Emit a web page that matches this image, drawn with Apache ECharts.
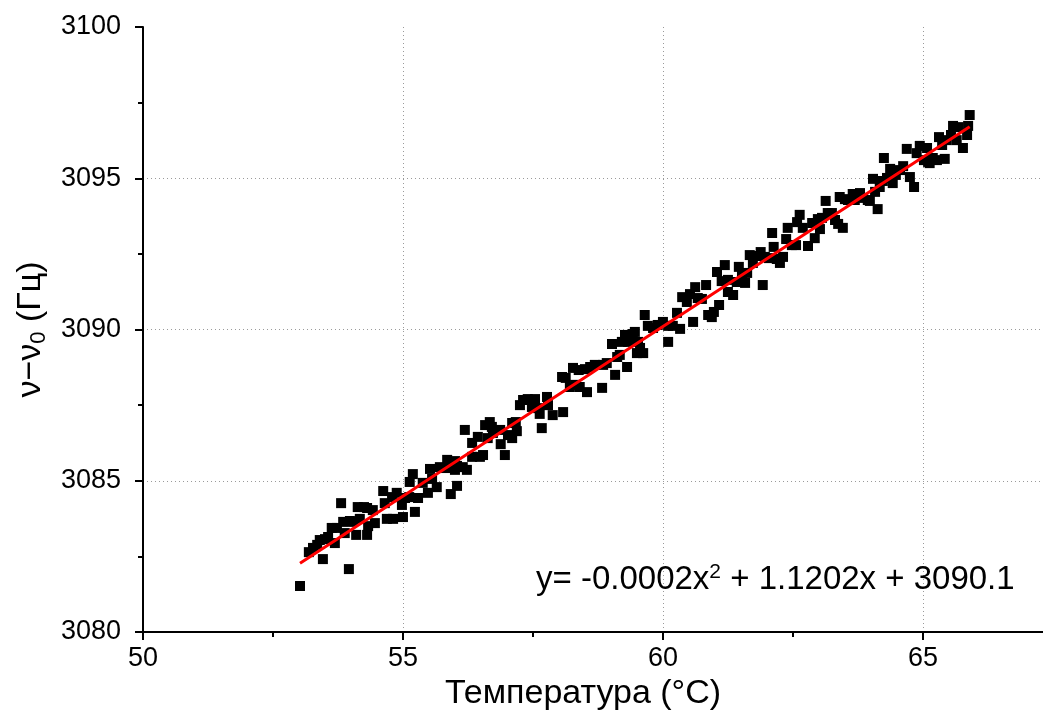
<!DOCTYPE html>
<html>
<head>
<meta charset="utf-8">
<script src="https://cdn.jsdelivr.net/npm/echarts@6/dist/echarts.min.js"></script>
<style>
  html, body { margin: 0; padding: 0; background: #ffffff; }
  #chart { width: 1043px; height: 717px; }
</style>
</head>
<body>
<div id="chart"></div>
<script>
// Measured temperature (°C)
const tempC = [
  53.02, 53.19, 53.27, 53.35, 53.40, 53.46, 53.50, 53.56, 53.63, 53.69,
  53.73, 53.81, 53.85, 53.88, 53.96, 53.98, 54.04, 54.10, 54.13, 54.17,
  54.25, 54.31, 54.31, 54.33, 54.42, 54.46, 54.62, 54.65, 54.69, 54.79,
  54.81, 54.88, 54.98, 55.00, 55.04, 55.12, 55.13, 55.19, 55.23, 55.29,
  55.38, 55.48, 55.52, 55.56, 55.65, 55.71, 55.81, 55.85, 55.92, 56.00,
  56.00, 56.04, 56.04, 56.15, 56.19, 56.23, 56.33, 56.33, 56.44, 56.48,
  56.54, 56.58, 56.63, 56.67, 56.71, 56.73, 56.87, 56.88, 56.96, 57.02,
  57.10, 57.10, 57.17, 57.19, 57.25, 57.31, 57.40, 57.48, 57.54, 57.60,
  57.63, 57.67, 57.77, 57.79, 57.88, 58.06, 58.08, 58.13, 58.21, 58.27,
  58.31, 58.38, 58.40, 58.50, 58.54, 58.60, 58.69, 58.83, 58.85, 58.92,
  59.02, 59.08, 59.12, 59.17, 59.21, 59.27, 59.31, 59.33, 59.40, 59.42,
  59.46, 59.50, 59.52, 59.56, 59.62, 59.65, 59.71, 59.81, 59.90, 60.00,
  60.10, 60.10, 60.19, 60.27, 60.33, 60.37, 60.46, 60.52, 60.58, 60.62,
  60.67, 60.75, 60.83, 60.87, 60.94, 60.98, 61.04, 61.08, 61.13, 61.19,
  61.25, 61.25, 61.35, 61.42, 61.46, 61.52, 61.58, 61.62, 61.67, 61.73,
  61.79, 61.88, 61.92, 61.96, 62.04, 62.10, 62.13, 62.19, 62.25, 62.31,
  62.37, 62.40, 62.48, 62.56, 62.58, 62.63, 62.69, 62.79, 62.87, 62.92,
  62.98, 63.02, 63.06, 63.13, 63.17, 63.25, 63.31, 63.37, 63.40, 63.46,
  63.50, 63.56, 63.65, 63.69, 63.79, 63.85, 63.94, 63.98, 64.04, 64.08,
  64.13, 64.17, 64.23, 64.25, 64.31, 64.37, 64.42, 64.48, 64.56, 64.62,
  64.69, 64.75, 64.83, 64.88, 64.94, 65.02, 65.08, 65.10, 65.13, 65.19,
  65.27, 65.31, 65.37, 65.42, 65.46, 65.54, 65.58, 65.65, 65.69, 65.77,
  65.85, 65.87, 65.90
];

// Frequency shift ν − ν0 (Hz), one value per temperature reading
const deltaNu = [
  3081.52, 3082.64, 3082.78, 3082.88, 3083.04, 3082.41, 3083.07, 3083.14, 3083.44, 3082.94,
  3083.44, 3084.26, 3083.64, 3083.27, 3082.08, 3083.67, 3083.64, 3083.21, 3084.13, 3083.74,
  3084.13, 3083.21, 3084.10, 3083.50, 3084.03, 3083.60, 3084.66, 3084.26, 3083.74, 3084.46,
  3083.74, 3084.60, 3084.20, 3083.80, 3084.43, 3084.46, 3084.96, 3085.22, 3083.97, 3084.43,
  3084.93, 3084.60, 3085.39, 3085.06, 3084.79, 3085.45, 3085.42, 3085.69, 3084.56, 3085.65,
  3085.36, 3084.83, 3085.49, 3085.45, 3086.68, 3085.36, 3086.25, 3085.79, 3086.45, 3085.79,
  3085.85, 3086.84, 3086.41, 3086.94, 3086.78, 3086.58, 3086.68, 3086.21, 3085.85, 3086.51,
  3086.41, 3086.91, 3086.94, 3086.64, 3087.50, 3087.67, 3087.70, 3087.44, 3087.70, 3087.40,
  3087.21, 3086.74, 3087.77, 3087.50, 3087.17, 3088.43, 3087.27, 3088.40, 3088.10, 3088.73,
  3088.17, 3088.66, 3088.10, 3088.69, 3087.93, 3088.76, 3088.83, 3088.07, 3088.83, 3088.89,
  3089.52, 3088.50, 3089.09, 3089.16, 3089.59, 3089.82, 3088.76, 3089.59, 3089.72, 3089.85,
  3089.92, 3089.22, 3089.59, 3089.39, 3089.22, 3090.48, 3090.12, 3090.05, 3090.15, 3090.25,
  3089.59, 3090.12, 3090.12, 3090.55, 3090.02, 3091.07, 3090.91, 3091.17, 3090.25, 3091.40,
  3091.04, 3091.01, 3091.47, 3090.48, 3090.41, 3090.58, 3091.90, 3090.81, 3091.60, 3092.13,
  3091.24, 3091.64, 3091.14, 3091.57, 3092.07, 3091.83, 3091.54, 3091.87, 3092.46, 3092.20,
  3092.43, 3092.56, 3091.47, 3092.40, 3092.36, 3093.19, 3092.73, 3092.33, 3092.20, 3092.40,
  3092.99, 3093.36, 3092.79, 3092.79, 3093.55, 3093.79, 3093.36, 3092.76, 3093.52, 3093.02,
  3093.65, 3093.32, 3093.69, 3094.25, 3093.85, 3093.85, 3093.62, 3093.49, 3094.38, 3093.36,
  3094.31, 3094.28, 3094.48, 3094.28, 3094.51, 3094.35, 3094.28, 3094.25, 3094.98, 3094.55,
  3093.98, 3094.71, 3094.91, 3095.67, 3095.01, 3095.31, 3094.84, 3095.11, 3095.27, 3095.40,
  3095.97, 3095.04, 3094.71, 3095.83, 3096.07, 3095.60, 3096.00, 3095.54, 3095.50, 3095.67,
  3095.60, 3096.36, 3096.10, 3095.64, 3096.26, 3096.43, 3096.73, 3096.26, 3096.69, 3096.00,
  3096.43, 3096.73, 3097.09
];

// Quadratic fit in the centred variable x = T − fitCentre: a·x² + b·x + c
const fitCoef = { a: -0.0002, b: 1.1202, c: 3090.1 };
const fitCentre = 60;

// Axis ranges and tick positions
const xRange = [50, 67.31];
const xMinorTicks = [52.5, 57.5, 62.5];
const yRange = [3080, 3100];

const FONT = '"Liberation Sans", Arial, sans-serif';

const points = tempC.map((t, i) => [t, deltaNu[i]]);

const tMin = Math.min(...tempC);
const tMax = Math.max(...tempC);
const fitLine = [];
const steps = 60;
for (let i = 0; i <= steps; i++) {
  const t = tMin + (tMax - tMin) * i / steps;
  const x = t - fitCentre;
  fitLine.push([t, fitCoef.a * x * x + fitCoef.b * x + fitCoef.c]);
}

const fmt = (v) => String(v);
const eqText = 'y= ' + fmt(fitCoef.a) + 'x{sup|2} + ' + fmt(fitCoef.b) + 'x + ' + fmt(fitCoef.c);

const axisLineStyle = { color: '#000', width: 2 };
const gridLineStyle = { color: '#9a9a9a', width: 1, type: [1, 3] };

const chart = echarts.init(document.getElementById('chart'), null, { renderer: 'canvas' });

chart.setOption({
  backgroundColor: '#ffffff',
  animation: false,
  grid: { left: 143, right: 0, top: 27, bottom: 85, containLabel: false },
  xAxis: [
    {
      type: 'value',
      min: xRange[0],
      max: xRange[1],
      interval: 5,
      name: 'Температура (°C)',
      nameLocation: 'middle',
      nameGap: 44,
      nameTextStyle: { fontFamily: FONT, fontSize: 34, color: '#000', padding: [0, 20, 0, 0] },
      axisLine: { show: true, onZero: false, lineStyle: axisLineStyle },
      axisTick: { show: true, inside: false, length: 8, lineStyle: axisLineStyle },
      axisLabel: { fontFamily: FONT, fontSize: 27, color: '#000', margin: 13, showMaxLabel: false,
                   formatter: (v) => String(v) },
      splitLine: { show: true, showMinLine: false, showMaxLine: false, lineStyle: gridLineStyle }
    },
    {
      type: 'value',
      min: xRange[0],
      max: xRange[1],
      position: 'bottom',
      axisLine: { show: false, onZero: false },
      axisTick: { show: true, inside: false, length: 5, customValues: xMinorTicks, lineStyle: axisLineStyle },
      axisLabel: { show: false },
      splitLine: { show: false }
    }
  ],
  yAxis: {
    type: 'value',
    min: yRange[0],
    max: yRange[1],
    interval: 5,
    name: 'ν−ν{s|0} (Гц)',
    nameLocation: 'middle',
    nameGap: 91,
    nameTextStyle: {
      fontFamily: FONT, fontSize: 34, color: '#000',
      rich: { s: { fontFamily: FONT, fontSize: 22, color: '#000', verticalAlign: 'bottom', padding: [16, 0, 0, 0] } }
    },
    axisLine: { show: true, onZero: false, lineStyle: axisLineStyle },
    axisTick: { show: true, inside: false, length: 8, lineStyle: axisLineStyle },
    minorTick: { show: true, splitNumber: 2, length: 5, lineStyle: axisLineStyle },
    axisLabel: { fontFamily: FONT, fontSize: 27, color: '#000', margin: 22,
                 formatter: (v) => String(v) },
    splitLine: { show: true, showMinLine: false, showMaxLine: false, lineStyle: gridLineStyle }
  },
  series: [
    {
      type: 'scatter',
      name: 'data',
      data: points,
      symbol: 'rect',
      symbolSize: 10,
      itemStyle: { color: '#000', opacity: 1 },
      z: 2
    },
    {
      type: 'line',
      name: 'fit',
      data: fitLine,
      showSymbol: false,
      smooth: false,
      lineStyle: { color: '#ff0000', width: 3 },
      z: 3
    }
  ],
  graphic: [
    {
      type: 'text',
      left: 536,
      top: 562,
      z: 10,
      style: {
        text: eqText,
        fontFamily: FONT,
        fontSize: 33,
        fill: '#000',
        rich: {
          sup: { fontFamily: FONT, fontSize: 21, fill: '#000', verticalAlign: 'top', padding: [0, 0, 14, 0] }
        }
      }
    }
  ]
});
</script>
</body>
</html>
